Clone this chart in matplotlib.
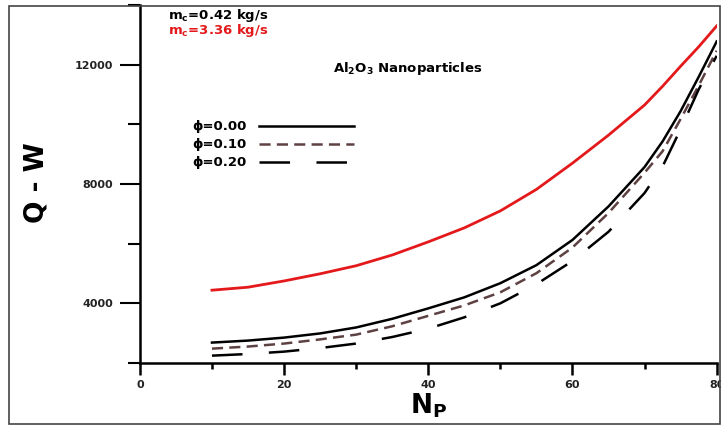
import matplotlib
matplotlib.use('Agg')
import matplotlib.pyplot as plt
from matplotlib.ticker import MultipleLocator
from matplotlib.patches import Rectangle

# data
np_vals = [10, 15, 20, 25, 30, 35, 40, 45, 50, 55, 60, 65, 70, 72.5, 75, 77.5, 80]
q_red = [4440, 4540, 4750, 4990, 5260, 5620, 6060, 6530, 7100, 7820, 8700, 9640,
         10650, 11280, 11950, 12600, 13300]   # mc=3.36
q_phi00 = [2683, 2750, 2850, 2990, 3190, 3480, 3830, 4200, 4675, 5280, 6125, 7250,
           8570, 9430, 10445, 11590, 12780]
q_phi10 = [2480, 2550, 2650, 2790, 2950, 3230, 3580, 3930, 4370, 5010, 5870, 7030,
           8380, 9100, 10180, 11300, 12470]
q_phi20 = [2245, 2300, 2380, 2500, 2650, 2870, 3150, 3530, 4000, 4640, 5420, 6400,
           7700, 8590, 9840, 11170, 12300]
phi_labels = ['ϕ=0.00', 'ϕ=0.10', 'ϕ=0.20']

plt.rcParams['mathtext.fontset'] = 'dejavusans'
plt.rcParams['lines.scale_dashes'] = False

fig = plt.figure(figsize=(7.21, 4.25), dpi=100)
ax = fig.add_axes([0.194, 0.146, 0.800, 0.842])

# outer frame
fig.patches.append(Rectangle((0.0125, 0.002), 0.986, 0.984, transform=fig.transFigure,
                             fill=False, edgecolor='#444444', linewidth=1.2))

ax.plot(np_vals, q_red, color='#e3191c', lw=2.0)
l0, = ax.plot(np_vals, q_phi00, color='black', lw=1.8, label=phi_labels[0])
l1, = ax.plot(np_vals, q_phi10, color='#5e4142', lw=1.8, dashes=(8, 4.5), label=phi_labels[1])
l2, = ax.plot(np_vals, q_phi20, color='black', lw=1.8, dashes=(22, 19), label=phi_labels[2])

ax.set_xlim(0, 80)
ax.set_ylim(2000, 14000)
for s in ['top', 'right']:
    ax.spines[s].set_visible(False)
for s in ['left', 'bottom']:
    ax.spines[s].set_linewidth(1.8)

ax.xaxis.set_major_locator(MultipleLocator(20))
ax.xaxis.set_minor_locator(MultipleLocator(10))
ax.yaxis.set_major_locator(MultipleLocator(4000))
ax.yaxis.set_minor_locator(MultipleLocator(2000))
ax.tick_params(axis='x', which='major', direction='out', length=8.5, width=1.8, pad=4)
ax.tick_params(axis='x', which='minor', direction='out', length=4.5, width=1.8)
ax.tick_params(axis='y', which='major', direction='out', length=14.5, width=1.5, pad=5)
ax.tick_params(axis='y', which='minor', direction='out', length=8.5, width=1.5)
for lab in ax.get_xticklabels() + ax.get_yticklabels():
    lab.set_fontweight('bold')
    lab.set_fontsize(8)
    lab.set_color('#222222')

ax.set_xlabel(r'$\mathbf{N_P}$', fontsize=19, labelpad=1)
ax.set_ylabel('Q - W', fontsize=19, fontweight='bold')
ax.yaxis.set_label_coords(-0.156, 0.503)

ax.text(0.049, 0.971, r'$\mathbf{m_c}$=0.42 kg/s', transform=ax.transAxes,
        fontsize=9.5, fontweight='bold', va='center', color='black')
ax.text(0.049, 0.928, r'$\mathbf{m_c}$=3.36 kg/s', transform=ax.transAxes,
        fontsize=9.5, fontweight='bold', va='center', color='#e3191c')
ax.text(0.334, 0.824, r'Al$_\mathbf{2}$O$_\mathbf{3}$ Nanoparticles', transform=ax.transAxes,
        fontsize=9.5, fontweight='bold', va='center')

leg = ax.legend(handles=[l0, l1, l2], loc='upper left', bbox_to_anchor=(0.091, 0.678),
                frameon=False, markerfirst=False, handlelength=7.2, handletextpad=0.9,
                labelspacing=0.38, borderpad=0, borderaxespad=0,
                prop={'weight': 'bold', 'size': 9.5})

fig.savefig('out.png', dpi=100)
